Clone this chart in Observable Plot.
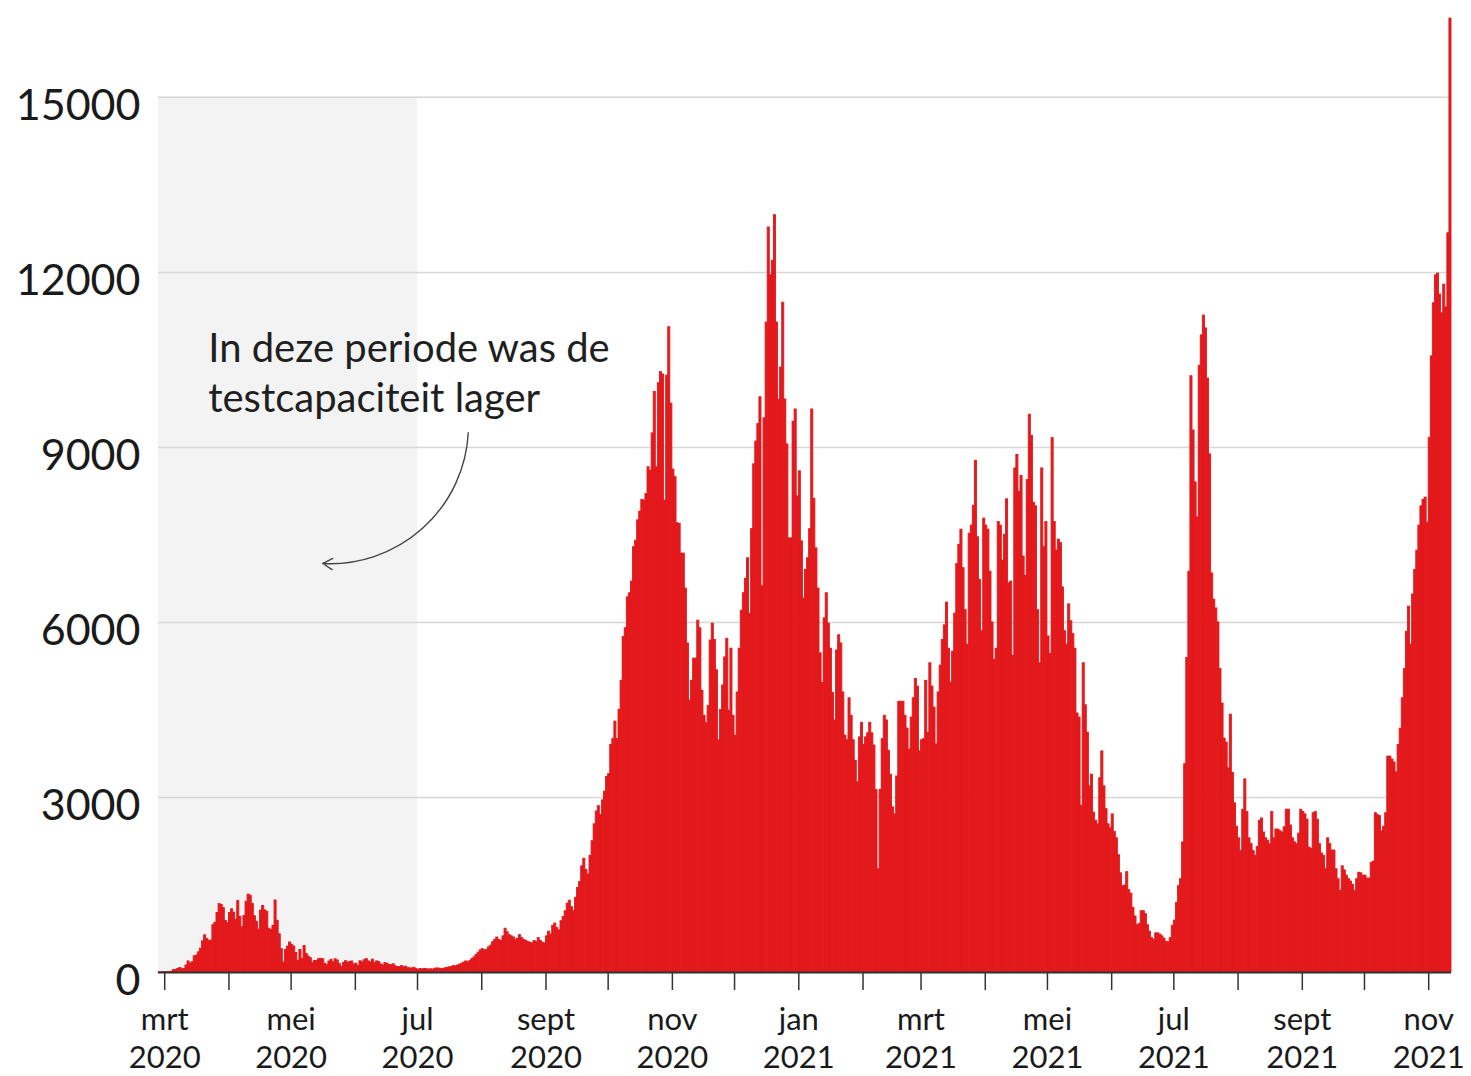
<!DOCTYPE html>
<html>
<head>
<meta charset="utf-8">
<script src="https://cdn.jsdelivr.net/npm/d3@7"></script>
<script src="https://cdn.jsdelivr.net/npm/@observablehq/plot@0.6"></script>
<style>
  body { margin: 0; background: #fff; }
  #chart svg { display: block; }
</style>
</head>
<body>
<div id="chart"></div>
<script>
// ---- Data: daily positive tests, starting 27 Feb 2020 ----
const startDate = "2020-02-27";
const feb2020 = [1, 1, 5];
const mar2020 = [5, 6, 5, 14, 44, 46, 60, 77, 56, 61, 121, 190, 155, 176, 278, 292, 346, 409, 534, 637, 573, 545, 547, 811, 852, 1019, 1172, 1159, 1104, 884, 845];
const apr2020 = [1019, 1083, 1026, 904, 1224, 952, 777, 969, 1213, 1335, 1316, 1174, 964, 868, 734, 1061, 1140, 1066, 1043, 750, 729, 797, 1235, 887, 655, 400, 171, 386, 445, 514];
const may2020 = [475, 445, 335, 199, 387, 232, 455, 319, 274, 245, 161, 196, 199, 228, 235, 227, 148, 125, 189, 218, 174, 227, 206, 143, 98, 165, 193, 171, 179, 189, 138];
const jun2020 = [150, 110, 193, 174, 210, 230, 190, 175, 220, 160, 190, 180, 140, 120, 160, 150, 130, 125, 140, 105, 95, 92, 110, 88, 100, 75, 70, 68, 82, 62];
const jul2020 = [45, 60, 52, 62, 58, 48, 55, 50, 64, 70, 66, 58, 62, 72, 80, 88, 95, 110, 104, 120, 135, 150, 170, 190, 175, 200, 230, 260, 300, 340, 380];
const aug2020 = [400, 380, 390, 430, 460, 520, 560, 600, 560, 540, 620, 750, 690, 640, 620, 600, 560, 580, 640, 590, 560, 540, 520, 510, 500, 540, 520, 590, 540, 510, 500];
const sep2020 = [620, 700, 650, 800, 840, 760, 720, 880, 950, 1050, 1180, 1230, 1120, 1050, 1280, 1450, 1550, 1820, 1950, 1760, 1680, 2000, 2250, 2540, 2760, 2850, 2700, 2950, 3100, 3350];
const oct2020 = [3400, 3900, 4000, 4300, 4000, 4500, 5000, 5750, 5900, 6430, 6500, 6700, 7290, 7400, 7750, 7900, 8100, 8090, 8200, 8660, 8600, 9240, 9950, 8660, 10100, 10290, 10250, 8090, 10230, 11060, 9750];
const nov2020 = [8620, 8490, 7700, 7690, 7180, 7180, 6580, 5640, 4660, 5000, 5380, 5380, 6030, 5900, 4830, 4400, 4280, 4570, 5690, 5980, 5700, 5180, 3980, 4500, 4920, 5400, 5720, 4490, 5550, 4400];
const dec2020 = [4060, 4800, 5550, 6200, 6500, 6750, 7100, 6150, 7600, 8710, 9100, 9400, 9860, 6620, 9500, 11140, 12770, 11950, 12200, 12980, 11140, 9820, 10370, 11480, 9820, 9050, 7440, 7440, 9440, 9650, 8160];
const jan2021 = [8590, 7390, 6410, 6900, 7100, 7600, 9650, 8120, 7270, 6580, 5470, 4960, 6070, 6500, 5980, 5550, 4790, 4320, 5520, 5780, 5640, 4800, 4060, 3980, 4700, 4400, 3980, 3630, 3260, 4030, 4280];
const feb2021 = [3900, 4030, 4100, 4280, 4100, 3890, 3130, 1770, 3130, 4000, 4400, 4320, 3800, 3390, 2830, 2710, 3360, 4640, 4640, 4640, 4400, 4180, 3820, 4370, 4700, 5030, 4900, 3790];
const mar2021 = [3980, 4000, 5000, 4110, 5300, 4900, 4540, 3910, 4800, 5260, 5700, 5950, 6340, 5550, 4970, 5500, 6150, 7000, 7330, 7590, 6930, 6210, 5620, 7520, 7660, 8000, 8770, 7460, 6730, 5850, 7780];
const apr2021 = [7660, 7590, 6870, 6000, 5360, 5550, 7720, 7660, 7060, 7500, 8110, 6670, 6700, 5430, 8640, 8870, 8240, 8510, 7130, 6800, 8440, 9560, 9200, 8050, 7990, 6210, 5300, 8640, 7290, 7720];
const may2021 = [5760, 5460, 9160, 7720, 7230, 7420, 7360, 6600, 5850, 5620, 6310, 6020, 5800, 5550, 4440, 4370, 2860, 5300, 4580, 4110, 3190, 3390, 2740, 2600, 2540, 3330, 3790, 3190, 2800, 2540, 2470];
const jun2021 = [2710, 2410, 2300, 2010, 1700, 1480, 1490, 1720, 1410, 1350, 1110, 960, 810, 830, 1050, 1050, 1000, 810, 700, 590, 560, 670, 670, 650, 620, 580, 520, 520, 590, 800];
const jul2021 = [890, 1190, 1480, 1600, 2230, 3570, 5390, 6870, 10220, 9290, 8400, 7800, 10400, 10920, 11260, 11040, 10180, 8880, 6840, 6390, 6240, 6000, 5200, 4610, 4010, 3940, 3500, 4420, 3420, 2900, 2500];
const aug2021 = [2300, 2080, 2790, 3310, 2750, 2300, 2200, 2080, 2000, 2150, 2600, 2640, 2400, 2300, 2260, 2200, 2750, 2300, 2450, 2450, 2420, 2400, 2490, 2790, 2790, 2520, 2300, 2230, 2200, 2380, 2790];
const sep2021 = [2750, 2710, 2620, 2140, 2120, 2730, 2750, 2620, 2200, 2040, 2000, 1770, 2300, 2200, 2090, 2090, 1770, 1600, 1400, 1820, 1750, 1660, 1600, 1560, 1500, 1400, 1600, 1710, 1700, 1660];
const oct2021 = [1660, 1610, 1610, 1880, 1900, 2730, 2700, 2680, 2420, 2500, 2730, 3700, 3700, 3650, 3600, 3430, 3900, 4180, 4700, 5200, 5840, 6270, 5620, 6480, 6900, 7230, 7660, 7990, 8100, 8140, 7710];
const nov2021 = [9160, 10560, 11470, 11950, 11980, 11620, 11300, 11790, 11400, 12670, 16350];

// ---- Axis labels ----
const monthNames = ["jan", "feb", "mrt", "apr", "mei", "jun", "jul", "aug", "sept", "okt", "nov", "dec"];
const yTicks = [0, 3000, 6000, 9000, 12000, 15000];
const firstTick = "2020-03-01";
const lastTick = "2021-11-01";

// ---- Annotation ----
const lowTestingEnd = "2020-07-01";
const bandTop = 15000;
const noteLines = ["In deze periode was de", "testcapaciteit lager"];
const noteAt = { date: "2020-03-22", value: 11080 };
const arrowFrom = { date: "2020-07-25T12:00Z", value: 9250 };
const arrowTo = { date: "2020-05-16T06:00Z", value: 7010 };

// ---- Build ----
const values = [].concat(feb2020, mar2020, apr2020, may2020, jun2020, jul2020, aug2020, sep2020, oct2020, nov2020, dec2020,
  jan2021, feb2021, mar2021, apr2021, may2021, jun2021, jul2021, aug2021, sep2021, oct2021, nov2021);
const start = new Date(startDate);
const data = values.map((v, i) => ({ date: d3.utcDay.offset(start, i), value: v }));
const end = d3.utcDay.offset(start, values.length);

const monthTicks = d3.utcMonth.range(new Date(firstTick), d3.utcDay.offset(new Date(lastTick), 1));
const labelTicks = monthTicks.filter(d => d.getUTCMonth() % 2 === 0);

const red = "#e3191c";

const chart = Plot.plot({
  width: 1471,
  height: 1076,
  marginLeft: 158,
  marginRight: 20,
  marginTop: 0,
  marginBottom: 104,
  style: { fontFamily: "Lato, 'Noto Sans', sans-serif", background: "#fff", color: "#1a1a1a", overflow: "visible" },
  x: { type: "utc", domain: [start, end], label: null },
  y: { domain: [0, 16660], label: null },
  marks: [
    Plot.rect([{ x1: start, x2: new Date(lowTestingEnd) }], { x1: "x1", x2: "x2", y1: 0, y2: bandTop, fill: "#f3f3f3" }),
    Plot.gridY(yTicks, { stroke: "#d6d6d6", strokeOpacity: 1, strokeWidth: 1.5 }),
    Plot.rectY(data, { x: "date", interval: "day", y: "value", fill: red, stroke: red, strokeWidth: 0.9, inset: 0 }),
    Plot.ruleY([0], { stroke: "#333", strokeWidth: 2 }),
    Plot.axisX(monthTicks, { tickSize: 18, tickFormat: () => "", stroke: "#333", strokeWidth: 1.5, label: null }),
    Plot.axisX(labelTicks, {
      tickSize: 0, tickPadding: 30, fontSize: 31, lineHeight: 1.23, fill: "#1a1a1a", label: null,
      tickFormat: d => `${monthNames[d.getUTCMonth()]}\n${d.getUTCFullYear()}`
    }),
    Plot.axisY(yTicks, { tickSize: 0, tickPadding: 18, fontSize: 43, dy: 9, fill: "#1a1a1a", label: null, tickFormat: d => String(d) }),
    Plot.text([noteLines.join("\n")], {
      x: new Date(noteAt.date), y: noteAt.value, text: d => d,
      textAnchor: "start", lineAnchor: "top", fontSize: 40, lineHeight: 1.25, fill: "#1f1f1f"
    }),
    Plot.arrow([{ from: arrowFrom, to: arrowTo }], {
      x1: d => new Date(d.from.date), y1: d => d.from.value,
      x2: d => new Date(d.to.date), y2: d => d.to.value,
      bend: 45, stroke: "#444", strokeWidth: 1.4, headLength: 12
    })
  ]
});
document.getElementById("chart").append(chart);
</script>
</body>
</html>
